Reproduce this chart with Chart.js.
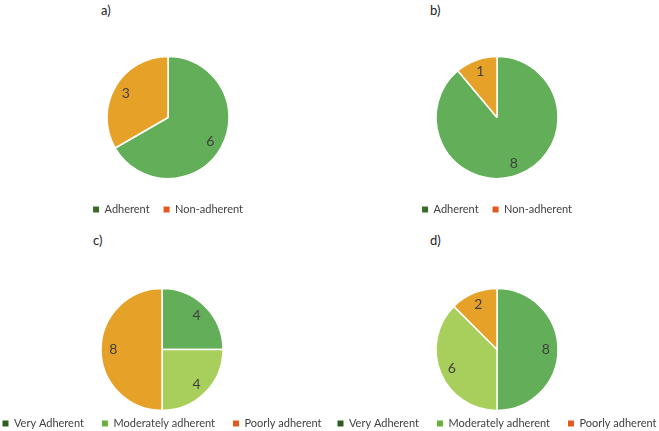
<!DOCTYPE html>
<html>
<head>
<meta charset="utf-8">
<script src="https://cdn.jsdelivr.net/npm/chart.js@4"></script>
<style>
  html, body { margin: 0; padding: 0; background: #fff; overflow: hidden; }
  body { width: 659px; height: 431px; position: relative; font-family: Lato, sans-serif; }
  .box { position: absolute; }
  .ttl { position: absolute; font-size: 13px; color: #222; }
</style>
</head>
<body>
<div class="ttl" style="left:101px;top:2px">a)</div>
<div class="ttl" style="left:430px;top:2px">b)</div>
<div class="ttl" style="left:93px;top:232px">c)</div>
<div class="ttl" style="left:430px;top:232px">d)</div>

<div class="box" style="left:3px;top:0;width:330px;height:225px"><canvas id="pieA"></canvas></div>
<div class="box" style="left:332px;top:0;width:330px;height:225px"><canvas id="pieB"></canvas></div>
<div class="box" style="left:-28px;top:220px;width:380px;height:219px"><canvas id="pieC"></canvas></div>
<div class="box" style="left:307px;top:220px;width:380px;height:219px"><canvas id="pieD"></canvas></div>

<script>
/* DATA */
const labelsAB = ['Adherent', 'Non-adherent'];
const valuesA = [6, 3];
const valuesB = [8, 1];

const labelsCD = ['Very Adherent', 'Moderately adherent', 'Poorly adherent'];
const valuesC = [4, 4, 8];
const valuesD = [8, 6, 2];

/* COLOURS */
const sliceAB = ['#63ae58', '#e6a228'];
const legendAB = ['#3a6a28', '#e3581b'];
const sliceCD = ['#63ae58', '#a8cf5b', '#e6a228'];
const legendCD = ['#2f5d20', '#6cae3c', '#e3581b'];

// numbers on the slices
const sliceLabels = {
    id: 'sliceLabels',
    afterDatasetsDraw(chart) {
        const ctx = chart.ctx;
        const meta = chart.getDatasetMeta(0);
        const data = chart.data.datasets[0].data;
        ctx.save();
        ctx.font = '14px Lato, sans-serif';
        ctx.fillStyle = '#404040';
        ctx.textAlign = 'center';
        ctx.textBaseline = 'middle';
        meta.data.forEach(function(arc, i) {
            const p = arc.getProps(['x', 'y', 'startAngle', 'endAngle', 'outerRadius'], true);
            const mid = (p.startAngle + p.endAngle) / 2;
            const r = p.outerRadius * 0.8;
            ctx.fillText(String(data[i]), p.x + Math.cos(mid) * r, p.y + Math.sin(mid) * r);
        });
        ctx.restore();
    }
};

function makePie(id, labels, values, slices, legendCols, topPad, gap) {
    const ctx = document.getElementById(id).getContext('2d');
    return new Chart(ctx, {
        type: 'pie',
        data: {
            labels: labels,
            datasets: [{
                data: values,
                backgroundColor: slices,
                borderColor: '#ffffff',
                borderWidth: 1.5,
                radius: 61
            }]
        },
        options: {
            responsive: true,
            maintainAspectRatio: false,
            animation: false,
            layout: { padding: { top: topPad, bottom: 0 } },
            plugins: {
                tooltip: { enabled: false },
                legend: {
                    position: 'bottom',
                    labels: {
                        boxWidth: 6,
                        boxHeight: 6,
                        padding: gap,
                        color: '#404040',
                        font: { family: 'Lato, sans-serif', size: 11 },
                        generateLabels: function(chart) {
                            return chart.data.labels.map(function(l, i) {
                                return {
                                    text: l,
                                    fillStyle: legendCols[i],
                                    strokeStyle: legendCols[i],
                                    lineWidth: 0,
                                    fontColor: '#404040',
                                    hidden: false,
                                    index: i
                                };
                            });
                        }
                    }
                }
            }
        },
        plugins: [sliceLabels]
    });
}

makePie('pieA', labelsAB, valuesA, sliceAB, legendAB, 45, 14);
makePie('pieB', labelsAB, valuesB, sliceAB, legendAB, 45, 14);
makePie('pieC', labelsCD, valuesC, sliceCD, legendCD, 79, 18);
makePie('pieD', labelsCD, valuesD, sliceCD, legendCD, 79, 18);
</script>
</body>
</html>
